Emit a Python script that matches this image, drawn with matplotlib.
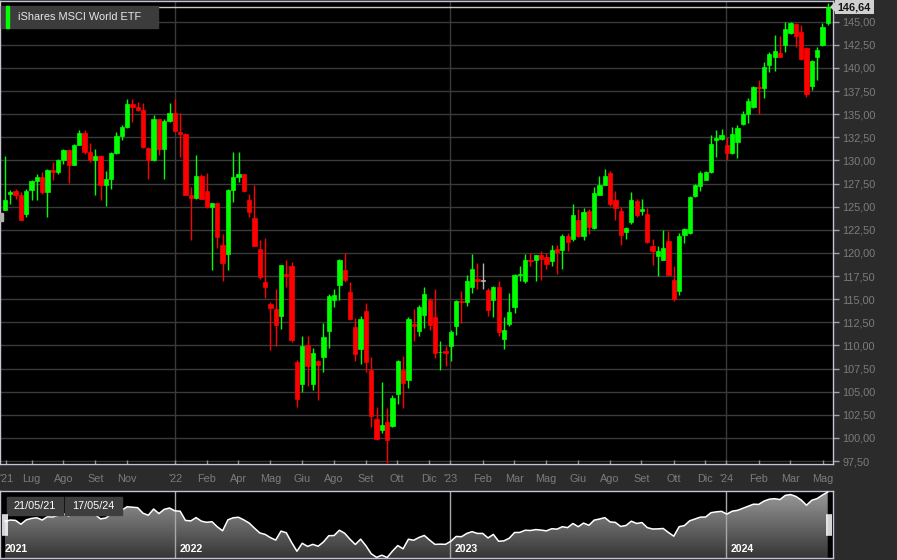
import numpy as np
import matplotlib
matplotlib.use("Agg")
import matplotlib.pyplot as plt
import matplotlib.transforms as mtransforms
from matplotlib.colors import LinearSegmentedColormap
from matplotlib.lines import Line2D
from matplotlib.patches import Rectangle, Polygon

plt.rcParams['font.family'] = ['Liberation Sans', 'DejaVu Sans']

# Data: weekly candles iShares MSCI World ETF, 21/05/21 - 17/05/24
title = "iShares MSCI World ETF"
start_label, end_label = "21/05/21", "17/05/24"

opens = [124.68, 126.41, 126.66, 126.23, 124.24, 126.77, 127.74, 128.21, 126.59, 129.00,
         128.75, 130.02, 131.10, 129.48, 131.71, 133.01, 130.92, 130.02, 130.45, 127.38,
         128.03, 130.85, 132.62, 133.63, 136.08, 135.79, 135.43, 131.35, 130.02, 134.46,
         131.21, 134.24, 135.18, 133.09, 132.91, 126.30, 125.97, 128.32, 126.70, 124.96,
         125.40, 120.90, 119.93, 126.77, 128.21, 128.50, 125.69, 123.81, 120.43, 116.86,
         114.44, 113.97, 113.21, 117.76, 118.56, 108.23, 105.81, 110.04, 105.85, 108.34,
         108.70, 111.52, 114.95, 116.50, 118.19, 115.74, 111.99, 109.60, 113.68, 107.29,
         102.02, 100.87, 101.77, 101.34, 104.73, 107.36, 106.28, 112.35, 111.59, 113.32,
         114.95, 113.07, 109.24, 109.35, 109.89, 112.06, 114.84, 114.73, 116.32, 117.22,
         117.00, 115.96, 114.95, 116.32, 110.72, 112.31, 114.15, 117.62, 116.93, 119.28,
         119.28, 119.82, 119.57, 119.10, 120.43, 120.36, 121.88, 121.52, 123.59, 121.80,
         124.50, 122.69, 126.30, 127.31, 128.68, 125.76, 124.50, 122.26, 123.34, 125.61,
         124.50, 124.24, 120.72, 119.71, 119.28, 121.26, 117.11, 115.85, 121.99, 122.15,
         126.12, 127.20, 127.92, 128.75, 132.18, 132.29, 131.64, 130.81, 132.00, 133.92,
         135.00, 135.79, 137.89, 137.85, 140.31, 141.21, 141.64, 142.47, 143.81, 144.71,
         143.84, 142.18, 138.03, 141.21, 142.47, 144.82]
highs = [130.45, 126.84, 126.95, 126.59, 126.95, 127.85, 128.57, 128.75, 129.12, 129.84,
         130.20, 131.28, 131.28, 131.82, 133.27, 133.27, 131.93, 131.21, 130.56, 128.86,
         130.92, 133.09, 133.81, 136.62, 136.62, 136.34, 136.16, 131.46, 134.96, 134.53,
         134.53, 136.26, 136.62, 135.18, 132.98, 127.13, 130.63, 128.57, 128.68, 125.40,
         125.40, 122.00, 126.95, 130.92, 130.92, 128.57, 126.41, 127.31, 121.44, 121.62,
         114.66, 116.10, 118.74, 119.21, 119.03, 108.45, 111.05, 110.97, 109.71, 108.45,
         112.42, 115.60, 116.10, 119.35, 120.00, 116.82, 112.96, 113.21, 114.58, 108.70,
         103.39, 106.03, 103.21, 104.66, 108.45, 108.88, 113.07, 113.94, 114.40, 116.32,
         115.13, 116.10, 110.43, 109.96, 111.70, 114.95, 115.85, 117.65, 119.93, 118.92,
         118.92, 116.21, 116.39, 116.93, 113.07, 115.67, 117.73, 118.56, 119.93, 120.00,
         119.82, 120.18, 120.00, 120.90, 120.90, 122.09, 122.17, 125.25, 124.78, 124.89,
         124.78, 127.13, 128.32, 129.12, 128.86, 126.70, 124.96, 122.80, 126.59, 125.79,
         125.79, 124.89, 121.52, 120.79, 122.44, 122.42, 118.56, 122.17, 122.69, 126.16,
         127.42, 128.86, 128.86, 132.73, 133.34, 133.45, 132.55, 133.63, 133.81, 135.36,
         136.70, 138.03, 138.75, 140.60, 141.68, 143.56, 143.45, 145.00, 145.00, 144.89,
         144.64, 142.29, 140.85, 142.22, 144.89, 147.06]
lows = [124.60, 125.32, 125.87, 123.52, 123.88, 125.69, 125.69, 126.41, 123.88, 127.85,
        128.57, 129.66, 127.56, 129.48, 131.64, 130.74, 129.84, 126.23, 125.69, 125.07,
        126.95, 130.74, 132.18, 133.56, 134.17, 135.36, 131.39, 128.01, 129.95, 130.56,
        128.01, 134.17, 133.09, 130.38, 126.23, 121.44, 125.79, 125.79, 124.89, 118.19,
        120.54, 116.93, 118.19, 125.50, 127.67, 126.59, 123.88, 120.72, 117.18, 115.13,
        109.53, 109.89, 111.77, 116.32, 110.32, 103.32, 104.95, 105.56, 105.20, 104.12,
        107.11, 109.71, 114.15, 114.87, 116.86, 112.78, 108.27, 108.01, 107.18, 101.23,
        99.78, 100.51, 97.26, 101.16, 103.68, 103.21, 105.38, 110.43, 111.05, 111.88,
        111.70, 108.63, 107.36, 107.80, 108.34, 111.16, 112.42, 114.22, 115.67, 116.14,
        116.10, 113.21, 113.07, 111.05, 109.60, 112.06, 113.50, 116.93, 116.75, 118.63,
        116.93, 117.11, 118.27, 118.56, 117.73, 118.27, 120.18, 121.34, 121.73, 121.44,
        122.08, 122.62, 126.23, 127.31, 125.07, 123.52, 120.90, 121.52, 123.16, 123.88,
        124.13, 121.08, 118.74, 117.47, 119.28, 117.65, 114.77, 115.49, 121.08, 122.08,
        126.05, 126.70, 127.85, 128.68, 130.38, 132.18, 130.09, 130.74, 130.31, 133.81,
        134.10, 135.72, 135.07, 136.70, 139.51, 139.66, 141.14, 141.75, 143.63, 142.22,
        140.85, 136.88, 137.60, 138.68, 142.40, 144.64]
closes = [125.69, 126.59, 126.30, 123.59, 126.70, 127.74, 128.21, 126.59, 129.00, 128.75,
          130.02, 131.10, 129.48, 131.71, 133.01, 130.92, 130.02, 130.45, 127.38, 128.03,
          130.85, 132.62, 133.63, 136.08, 135.79, 135.43, 131.46, 130.02, 134.46, 131.21,
          134.24, 135.18, 133.16, 132.91, 126.30, 125.97, 128.32, 125.79, 124.96, 125.40,
          121.73, 118.92, 126.77, 128.21, 128.57, 126.66, 124.42, 120.79, 117.36, 116.32,
          114.01, 112.24, 118.66, 117.47, 110.54, 104.26, 109.96, 107.73, 109.17, 107.83,
          110.90, 115.38, 115.49, 119.28, 117.11, 112.85, 109.10, 112.89, 108.19, 102.42,
          99.89, 101.41, 99.78, 104.37, 108.34, 105.99, 112.85, 112.13, 114.12, 115.56,
          112.24, 109.17, 109.32, 109.20, 111.41, 114.84, 114.66, 117.00, 118.27, 117.00,
          117.00, 113.79, 116.32, 111.41, 111.70, 113.57, 117.65, 117.73, 119.28, 119.10,
          119.75, 119.39, 118.84, 120.36, 120.07, 121.81, 121.16, 124.13, 121.81, 124.42,
          122.80, 126.52, 127.31, 128.32, 125.25, 124.89, 121.99, 122.69, 125.76, 124.13,
          124.78, 121.16, 120.18, 120.25, 120.54, 117.65, 115.02, 121.81, 122.62, 126.05,
          127.31, 128.65, 128.75, 131.82, 132.44, 132.80, 130.81, 132.91, 133.52, 135.00,
          136.41, 137.89, 137.78, 140.13, 141.50, 141.86, 141.21, 144.21, 144.82, 143.48,
          140.92, 137.17, 140.74, 141.93, 144.46, 146.64]

# x-axis ticks (in week units from first candle)
tick_pos = [0.2, 5.03, 10.98, 17.01, 23.04, 32.12, 38.0, 43.95, 49.98, 55.95, 61.93,
            67.95, 73.91, 79.88, 83.89, 90.0, 95.95, 101.92, 107.95, 113.92, 119.88,
            125.98, 131.93, 135.89, 141.99, 147.95, 154.05]
tick_labels = ["'21", "Lug", "Ago", "Set", "Nov", "'22", "Feb", "Apr", "Mag", "Giu", "Ago",
               "Set", "Ott", "Dic", "'23", "Feb", "Mar", "Mag", "Giu", "Ago", "Set",
               "Ott", "Dic", "'24", "Feb", "Mar", "Mag"]
year_pos = [32.12, 83.89, 135.89]
year_labels = ["2021", "2022", "2023", "2024"]
y_ticks = np.arange(97.5, 145.01, 2.5)

W, H = 897, 560
BG = '#2b2b2b'
GRID = '#3a3a3a'
TXT = '#7c7c7c'
FRAME = '#c4c4d4'

def fx(px):
    return px / W

def fy(py):
    return 1 - py / H

fig = plt.figure(figsize=(W / 100, H / 100), dpi=100, facecolor=BG)

# main candle chart
ax = fig.add_axes([0, fy(464), fx(832.5), (464 - 1) / H])
ax.set_facecolor('black')
x = np.arange(len(closes))
o, hi, lo, c = map(np.array, (opens, highs, lows, closes))
col = np.where(c > o, '#00ff00', np.where(c < o, '#ff0000', '#b4b4b4'))

for yv in y_ticks:
    ax.axhline(yv, color=GRID, lw=1, zorder=1)
for p in year_pos:
    ax.axvline(p, color=GRID, lw=1, zorder=1)
ax.axhline(closes[-1], color='#c8c8c8', lw=1, zorder=2)

ax.vlines(x, lo, hi, colors=col, lw=1, zorder=3)
body = np.maximum(np.abs(c - o), 0.08)
ax.bar(x, body, bottom=np.minimum(o, c), width=0.8, color=col, edgecolor=col,
       lw=0.5, zorder=4)

ax.set_xlim(-0.94, 155.9)
ax.set_ylim(97.18, 147.24)
ax.yaxis.tick_right()
ax.set_yticks(y_ticks, [f"{v:.2f}".replace('.', ',') for v in y_ticks])
ax.tick_params(axis='y', color='#a0a0b0', labelcolor=TXT, labelsize=7.8,
               length=4, width=1, direction='out', pad=3)
ax.set_xticks(tick_pos, tick_labels)
ax.tick_params(axis='x', color='#909090', labelcolor=TXT, labelsize=7.8,
               length=3, width=1, direction='in', pad=7)
for s in ax.spines.values():
    s.set_color(FRAME)
    s.set_linewidth(1)

# legend box
fig.add_artist(Rectangle((fx(1), fy(28)), fx(158) - fx(1), 22 / H,
                         transform=fig.transFigure, color='#3c3c3c', zorder=5))
fig.add_artist(Rectangle((fx(6), fy(28)), fx(3), 22 / H,
                         transform=fig.transFigure, color='#00ff00', zorder=6))
fig.text(fx(18), fy(17.5), title, color='#e6e6e6', fontsize=7.9,
         ha='left', va='center', zorder=7)

# last price tag
fig.add_artist(Polygon([(fx(831), fy(7)), (fx(835), fy(3)), (fx(835), fy(11))],
                       closed=True, transform=fig.transFigure, color='#d0d0d0', zorder=5))
fig.text(fx(854.5), fy(7), f"{closes[-1]:.2f}".replace('.', ','), ha='center',
         va='center', fontsize=7.8, fontweight='bold', color='#161616', zorder=7,
         bbox=dict(boxstyle='square,pad=0.22', fc='#d0d0d0', ec='none'))

# small marker on left edge
fig.add_artist(Rectangle((fx(0), fy(221)), fx(3), 8 / H, transform=fig.transFigure,
                         color='#b0b0b0', zorder=5))

# navigator
nav = fig.add_axes([0, fy(558), fx(832.5), (558 - 490.5) / H])
nav.set_facecolor('black')
xl = ax.get_xlim()
nyl = (99.42, 147.71)
nav.set_xlim(xl)
nav.set_ylim(nyl)
cmap = LinearSegmentedColormap.from_list('nav', ['#353535', '#9c9c9c'])
grad = np.linspace(0, 1, 256).reshape(-1, 1)
im = nav.imshow(grad, extent=[xl[0], xl[1], nyl[0], nyl[1]], origin='lower',
                aspect='auto', cmap=cmap, zorder=1)
fill = nav.fill_between(x, c, nyl[0] - 1, facecolor='none', edgecolor='none')
im.set_clip_path(fill.get_paths()[0], transform=nav.transData)
nav.plot(x, c, color='white', lw=1.1, zorder=3)
for p in year_pos:
    nav.axvline(p, color='#a8a8a8', lw=1, zorder=2)
bt = mtransforms.blended_transform_factory(nav.transData, nav.transAxes)
label_x = [0.0] + [p + 0.85 for p in year_pos]
for lx, lab in zip(label_x, year_labels):
    nav.text(lx, 0.13, lab, transform=bt, color='white', fontsize=7.6,
             fontweight='bold', ha='left', va='center', zorder=4)
nav.set_xticks([])
nav.set_yticks([])
for s in nav.spines.values():
    s.set_color(FRAME)
    s.set_linewidth(1)

# date boxes
for (x0, x1), lab in zip([(7, 63), (65, 122)], [start_label, end_label]):
    fig.add_artist(Rectangle((fx(x0), fy(515)), fx(x1 - x0), 18 / H,
                             transform=fig.transFigure, color='#3e3e3e', zorder=5))
    fig.text(fx((x0 + x1) / 2), fy(506), lab, color='white', fontsize=7.8,
             ha='center', va='center', zorder=6)

# navigator handles
for hx in (3, 5, 7, 826.5, 828.5, 830.5):
    fig.add_artist(Line2D([fx(hx), fx(hx)], [fy(515), fy(535)],
                          transform=fig.transFigure, color='white', lw=1.2, zorder=6))

fig.savefig('out.png', dpi=100, facecolor=BG)
